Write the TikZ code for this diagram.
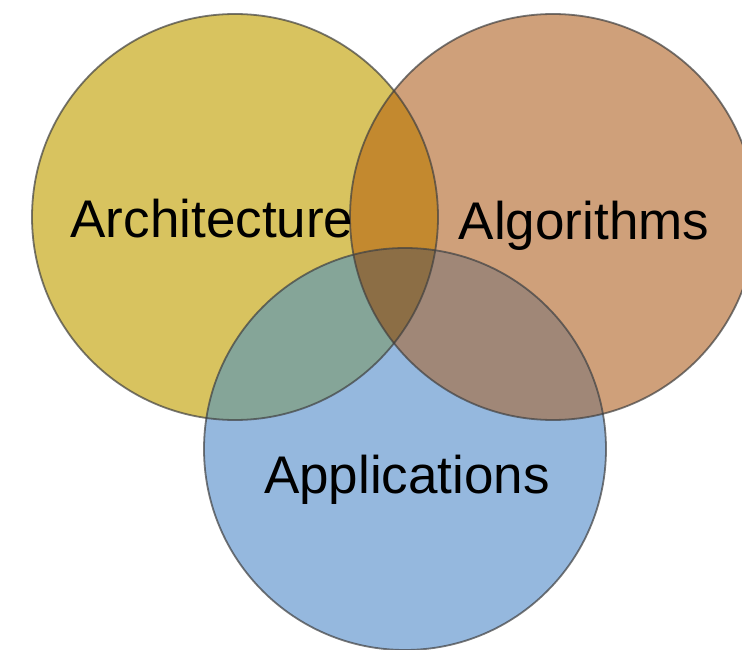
\documentclass[tikz,border=0pt]{standalone}
\usepackage{fontspec}
\setmainfont{Liberation Sans}
\definecolor{cy}{HTML}{D8C35F}
\definecolor{co}{HTML}{CFA07A}
\definecolor{cb}{HTML}{95B8DE}
\definecolor{cyo}{HTML}{C3892F}
\definecolor{cyb}{HTML}{85A598}
\definecolor{cob}{HTML}{A08777}
\definecolor{cyob}{HTML}{8C6E45}
\definecolor{edge}{HTML}{404040}
\begin{document}
\begin{tikzpicture}[x=1pt,y=-1pt,
  rim/.style={draw=edge,draw opacity=0.7,line width=1.8pt},
  lbl/.style={font=\fontsize{53}{60}\selectfont,anchor=base,inner sep=0pt}]
\useasboundingbox (0,0) rectangle (742,650);
\coordinate (Y) at (235,217);
\coordinate (O) at (553,217);
\coordinate (B) at (405,449);
\def\ry{203}
\def\rb{201}
\begin{scope}
\clip (0,0) rectangle (742,650);
\fill[cy] (Y) circle (\ry);
\fill[co] (O) circle (\ry);
\fill[cb] (B) circle (\rb);
\begin{scope}\clip (Y) circle (\ry); \fill[cyo] (O) circle (\ry); \fill[cyb] (B) circle (\rb);\end{scope}
\begin{scope}\clip (O) circle (\ry); \fill[cob] (B) circle (\rb);
  \clip (Y) circle (\ry); \fill[cyob] (B) circle (\rb);\end{scope}
\draw[rim] (Y) circle (\ry);
\draw[rim] (O) circle (\ry);
\draw[rim] (B) circle (\rb);
\end{scope}
\node[lbl] (arch) at (212,237) {Architecture};
\node[lbl] (alg) at (584,240) {Algorithms};
\node[lbl] (app) at (407,493) {Applications};
\end{tikzpicture}
\end{document}
